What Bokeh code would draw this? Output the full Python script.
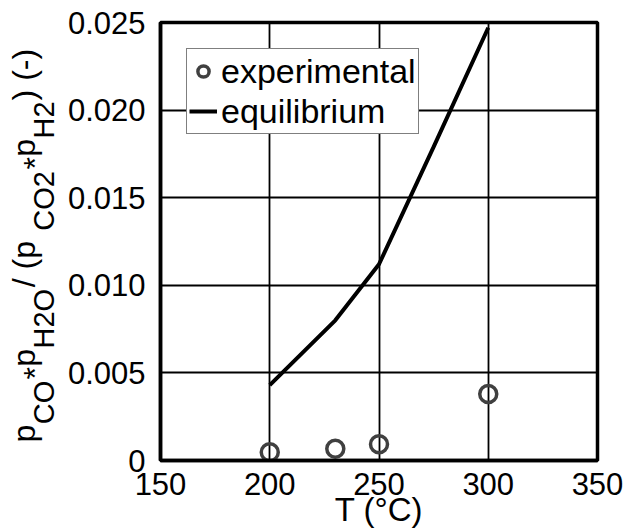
import math
from bokeh.plotting import figure
from bokeh.layouts import row
from bokeh.models import Legend, LegendItem, Label, FixedTicker, Range1d
from bokeh.embed import file_html
from bokeh.resources import INLINE

# ---------------- data ----------------
exp_T = [200, 230, 250, 300]
exp_ratio = [0.00047, 0.00067, 0.00093, 0.00380]
eq_T = [200, 230, 250, 275, 300]
eq_ratio = [0.0043, 0.0080, 0.0112, 0.0179, 0.0247]

x_ticks = [150, 200, 250, 300, 350]
x_tick_labels = ["150", "200", "250", "300", "350"]
y_ticks = [0, 0.005, 0.010, 0.015, 0.020, 0.025]
y_tick_labels = ["0", "0.005", "0.010", "0.015", "0.020", "0.025"]
legend_labels = ["experimental", "equilibrium"]
x_title = "T (\u00b0C)"
# y title pieces: (text, kind)
y_title_parts = [("p", "main"), ("CO", "sub"), ("*", "star"), ("p", "main"), ("H2O", "sub"),
                 (" / (p", "main"), ("CO2", "sub"), ("*", "star"), ("p", "main"), ("H2", "sub"),
                 (") (-)", "main")]

FONT = "Liberation Sans"
W, H = 628, 530
TW = 64                               # strip that carries the y title
FL, FT, FR, FB = 158, 22, 597, 460    # frame edges on the page
X0, X1 = 150, 350
Y0, Y1 = 0, 0.025

p = figure(width=W - TW, height=H, output_backend="svg", toolbar_location=None,
           x_range=Range1d(X0, X1), y_range=Range1d(Y0, Y1),
           min_border_left=FL - TW, min_border_right=W - FR,
           min_border_top=FT, min_border_bottom=H - FB)
p.background_fill_color = "white"
p.border_fill_color = "white"
p.outline_line_color = "black"
p.outline_line_width = 3.5
p.outline_line_alpha = 1.0

for ax in (p.xaxis[0], p.yaxis[0]):
    ax.axis_line_color = "black"
    ax.axis_line_width = 3.5
    ax.major_tick_line_color = None
    ax.minor_tick_line_color = None
    ax.major_tick_out = 0
    ax.major_tick_in = 0
    ax.major_label_text_font = FONT
    ax.major_label_text_font_size = "31px"
    ax.major_label_text_color = "black"

p.xaxis[0].ticker = FixedTicker(ticks=x_ticks)
p.xaxis[0].major_label_overrides = {t: s for t, s in zip(x_ticks, x_tick_labels)}
p.xaxis[0].major_label_standoff = 12
p.xaxis[0].axis_label = x_title
p.xaxis[0].axis_label_text_font = FONT
p.xaxis[0].axis_label_text_font_size = "33px"
p.xaxis[0].axis_label_text_font_style = "normal"
p.xaxis[0].axis_label_text_color = "black"
p.xaxis[0].axis_label_standoff = -7
p.yaxis[0].ticker = FixedTicker(ticks=y_ticks)
p.yaxis[0].major_label_overrides = {t: s for t, s in zip(y_ticks, y_tick_labels)}
p.yaxis[0].major_label_standoff = 15

p.xgrid.grid_line_color = "black"
p.xgrid.grid_line_width = 1.8
p.ygrid.grid_line_color = "black"
p.ygrid.grid_line_width = 1.8
p.xgrid.ticker = FixedTicker(ticks=x_ticks)
p.ygrid.ticker = FixedTicker(ticks=y_ticks)

r_line = p.line(eq_T, eq_ratio, line_color="black", line_width=4)
r_circ = p.scatter(exp_T, exp_ratio, marker="circle", size=17, fill_color=None,
                   line_color="#404040", line_width=3.5)

legend = Legend(items=[LegendItem(label=legend_labels[0], renderers=[r_circ]),
                       LegendItem(label=legend_labels[1], renderers=[r_line])],
                location="top_left")
legend.margin = 26
legend.padding = 2
legend.spacing = 0
legend.glyph_width = 28
legend.glyph_height = 40
legend.label_standoff = 4
legend.label_text_font = FONT
legend.label_text_font_size = "34px"
legend.label_text_color = "black"
legend.border_line_color = "black"
legend.border_line_width = 1.5
legend.background_fill_color = "white"
legend.background_fill_alpha = 1.0
p.add_layout(legend)

# ---- strip on the left carrying the y title; its frame is aligned with p's frame ----
tf = figure(width=TW, height=H, output_backend="svg", toolbar_location=None,
            x_range=Range1d(0, TW), y_range=Range1d(H - FB, H - FT),
            x_axis_type=None, y_axis_type=None,
            min_border_left=0, min_border_right=0, min_border_top=FT, min_border_bottom=H - FB)
tf.outline_line_color = None
tf.grid.visible = False
tf.background_fill_color = "white"
tf.border_fill_color = "white"

ADV = {"p": 556, "C": 722, "O": 778, "H": 722, "2": 556, "*": 389, " ": 278,
       "/": 278, "(": 333, ")": 333, "-": 333}
MAIN, SUB = 32, 29
BASE = {"main": 35, "sub": 54, "star": 46}       # baseline x on the page
SIZE = {"main": MAIN, "sub": SUB, "star": MAIN}
MID = 0.3465                                     # centre of the em box above baseline
start, end = 442.0, 47.0
total = sum(sum(ADV[c] for c in t) / 1000 * SIZE[k] for t, k in y_title_parts)
scale = (start - end) / total
pos = start
for t, k in y_title_parts:
    fs = SIZE[k]
    tf.add_layout(Label(x=BASE[k] - MID * fs, y=H - pos, text=t, angle=math.pi / 2,
                        text_align="left", text_baseline="middle",
                        text_font=FONT, text_font_size=f"{fs}px", text_color="black"))
    pos -= sum(ADV[c] for c in t) / 1000 * fs * scale

layout = row(tf, p, spacing=0)
open("out.html", "w").write(file_html(layout, INLINE))
